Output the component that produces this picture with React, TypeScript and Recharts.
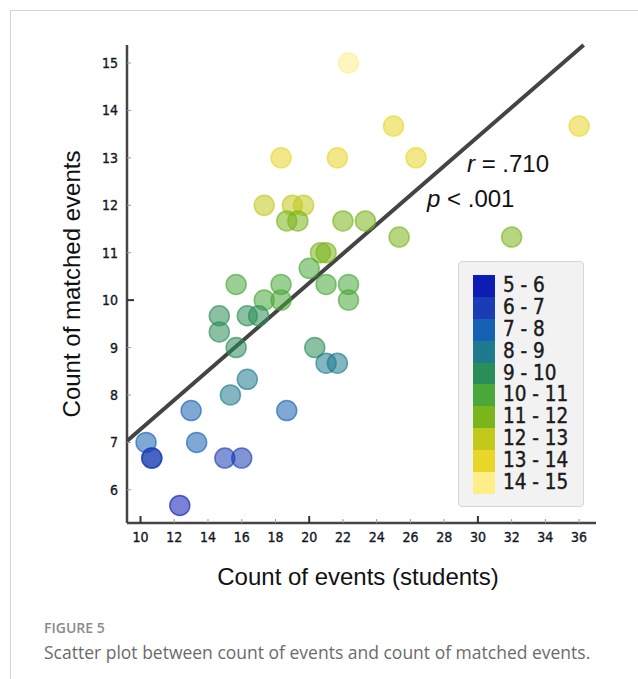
import { ScatterChart, Scatter, XAxis, YAxis, ReferenceLine } from "recharts";

// average count of events per student vs. average count of matched events
const xValues = [
  22.33, 18.33, 21.67, 25, 26.33, 36, 17.33, 19, 19.67, 18.67, 19.33, 22, 23.33,
  25.33, 32, 20.67, 21, 20, 15.67, 18.33, 21, 22.33, 17.33, 18.33, 22.33, 14.67,
  16.33, 17, 14.67, 15.67, 20.33, 21, 21.67, 16.33, 15.33, 13, 18.67, 10.33,
  13.33, 10.67, 10.67, 15, 16, 12.33,
];
const yValues = [
  15, 13, 13, 13.67, 13, 13.67, 12, 12, 12, 11.67, 11.67, 11.67, 11.67, 11.33,
  11.33, 11, 11, 10.67, 10.33, 10.33, 10.33, 10.33, 10, 10, 10, 9.67, 9.67, 9.67,
  9.33, 9, 9, 8.67, 8.67, 8.33, 8, 7.67, 7.67, 7, 7, 6.67, 6.67, 6.67, 6.67, 5.67,
];

const binLabels = ["5 - 6", "6 - 7", "7 - 8", "8 - 9", "9 - 10", "10 - 11", "11 - 12", "12 - 13", "13 - 14", "14 - 15"];
const binColors = ["#0d1cb3", "#1a3db5", "#1661b3", "#1f7a8e", "#2b8d58", "#4aa83a", "#7ab51c", "#c2c81c", "#e8d62a", "#fdee88"];

const xTicks = [10, 12, 14, 16, 18, 20, 22, 24, 26, 28, 30, 32, 34, 36];
const yTicks = [6, 7, 8, 9, 10, 11, 12, 13, 14, 15];

// regression line as drawn in the figure
const fitLine = [
  { x: 9.2, y: 7.03 },
  { x: 36.27, y: 15.38 },
];

const points = xValues.map((x, i) => ({
  x,
  y: yValues[i],
  bin: Math.min(binLabels.length - 1, Math.floor(yValues[i]) - 5),
}));

const tickFont = '"DejaVu Sans Condensed", "DejaVu Sans", sans-serif';
const arial = '"Liberation Sans", Arial, sans-serif';

const Dot = (props: any) => {
  const color = binColors[props.payload.bin];
  return (
    <circle
      cx={props.cx}
      cy={props.cy}
      r={10}
      fill={color}
      fillOpacity={0.55}
      stroke={color}
      strokeOpacity={0.65}
      strokeWidth={1.5}
    />
  );
};

const XTick = ({ x, y, payload }: any) => {
  const major = payload.value % 10 === 0;
  return (
    <g>
      <line x1={x} x2={x} y1={y} y2={y - (major ? 7 : 4)} stroke={major ? "#333" : "#999"} strokeWidth={major ? 2 : 1} />
      <text x={x} y={y + 19} textAnchor="middle" fontFamily={tickFont} fontStretch="condensed" fontSize={14} fill="#151823" stroke="#151823" strokeWidth={0.35}>
        {payload.value}
      </text>
    </g>
  );
};

const YTick = ({ x, y, payload }: any) => {
  const major = payload.value === 10;
  return (
    <g>
      <line x1={x} x2={x + (major ? 7 : 4)} y1={y} y2={y} stroke={major ? "#333" : "#999"} strokeWidth={major ? 2 : 1} />
      <text x={x - 9} y={y + 5} textAnchor="end" fontFamily={tickFont} fontStretch="condensed" fontSize={14} fill="#151823" stroke="#151823" strokeWidth={0.35}>
        {payload.value}
      </text>
    </g>
  );
};

const XTitle = ({ viewBox }: any) => (
  <text x={358} y={viewBox.y + 62} textAnchor="middle" fontFamily={arial} fontSize={24} fill="#111">
    Count of events (students)
  </text>
);

const YTitle = ({ viewBox }: any) => {
  const cy = viewBox.y + viewBox.height / 2;
  return (
    <text x={80} y={cy} transform={`rotate(-90, 80, ${cy})`} textAnchor="middle" fontFamily={arial} fontSize={24} fill="#111">
      Count of matched events
    </text>
  );
};

export default function App() {
  return (
    <div style={{ position: "absolute", left: 0, top: 0, width: 638, height: 679, background: "#fff" }}>
      <div style={{ position: "absolute", left: 10, top: 10, width: 628, height: 669, borderTop: "1px solid #d4d4d4", borderLeft: "1px solid #d4d4d4" }} />
      <ScatterChart width={638} height={679} margin={{ top: 45, right: 42, left: 0, bottom: 126 }}>
        <XAxis
          type="number"
          dataKey="x"
          domain={[9.2, 37]}
          ticks={xTicks}
          allowDataOverflow
          height={30}
          tickSize={0}
          tickMargin={0}
          tickLine={false}
          tick={<XTick />}
          axisLine={{ stroke: "#444", strokeWidth: 2.5 }}
          label={{ content: XTitle }}
        />
        <YAxis
          type="number"
          dataKey="y"
          domain={[5.3, 15.38]}
          ticks={yTicks}
          allowDataOverflow
          width={127}
          tickSize={0}
          tickMargin={0}
          tickLine={false}
          tick={<YTick />}
          axisLine={{ stroke: "#444", strokeWidth: 2.5 }}
          label={{ content: YTitle }}
        />
        <Scatter data={points} shape={<Dot />} isAnimationActive={false} />
        <ReferenceLine segment={fitLine} stroke="#444" strokeWidth={4} ifOverflow="visible" />
      </ScatterChart>

      <div style={{ position: "absolute", left: 467, top: 150, fontFamily: arial, fontSize: 24, color: "#111", whiteSpace: "nowrap" }}>
        <i>r</i> = .710
      </div>
      <div style={{ position: "absolute", left: 427, top: 185, fontFamily: arial, fontSize: 24, color: "#111", whiteSpace: "nowrap" }}>
        <i>p</i> &lt; .001
      </div>

      <div
        style={{
          position: "absolute",
          left: 458,
          top: 261,
          width: 126,
          height: 246,
          background: "#f2f2f2",
          border: "1px solid #d6d6d6",
          borderRadius: 4,
          boxSizing: "border-box",
          padding: "13px 0 0 14px",
        }}
      >
        {binLabels.map((label, i) => (
          <div key={label} style={{ display: "flex", alignItems: "center", height: 21.9 }}>
            <div style={{ width: 22, height: 21.9, background: binColors[i] }} />
            <span
              style={{
                marginLeft: 8,
                fontFamily: tickFont,
                fontStretch: "condensed",
                fontSize: 20.5,
                color: "#1b1b1b",
                lineHeight: "21.9px",
                WebkitTextStroke: "0.4px #1b1b1b",
              }}
            >
              {label}
            </span>
          </div>
        ))}
      </div>

      <div style={{ position: "absolute", left: 44, top: 618, fontFamily: '"Open Sans", sans-serif', fontWeight: 600, fontSize: 14, color: "#8a8a8a" }}>
        FIGURE 5
      </div>
      <div style={{ position: "absolute", left: 44, top: 640, fontFamily: '"Open Sans", sans-serif', fontSize: 17.5, color: "#6b6b6b", whiteSpace: "nowrap" }}>
        Scatter plot between count of events and count of matched events.
      </div>
    </div>
  );
}
